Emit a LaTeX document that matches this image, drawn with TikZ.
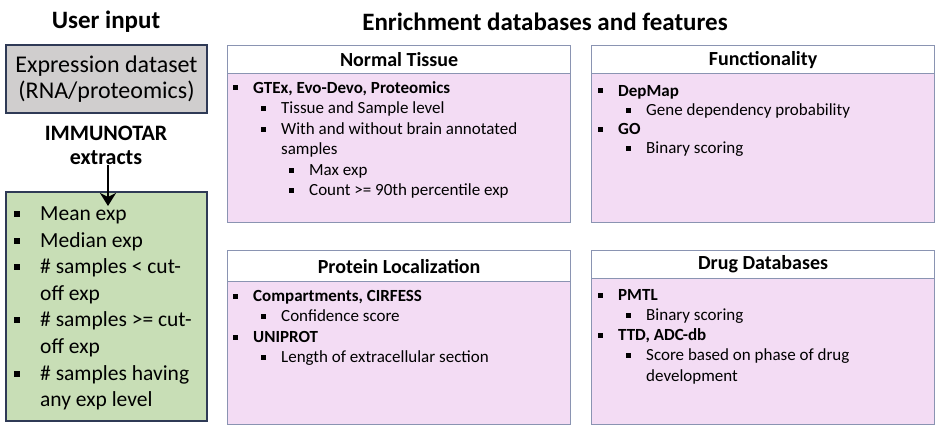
\documentclass[tikz,border=0pt]{standalone}
\usepackage{fontspec}
\setmainfont{Carlito}
\usetikzlibrary{positioning,arrows.meta}
\definecolor{navyline}{HTML}{2F3A56}
\definecolor{greyfill}{HTML}{D0CECE}
\definecolor{greenfill}{HTML}{C8DEB6}
\definecolor{pinkfill}{HTML}{F3DCF4}
\definecolor{boxline}{HTML}{8A94B2}
\begin{document}
\begin{tikzpicture}[x=1pt, y=-1pt, >=Stealth,
    heading/.style={font=\fontsize{25}{28}\selectfont\bfseries},
    hdr/.style={draw=boxline, line width=1.2pt, fill=white, anchor=north west, inner sep=0,
      minimum width=343pt, font=\fontsize{20}{23}\selectfont\bfseries},
    body/.style={draw=boxline, line width=1.2pt, fill=pinkfill, anchor=north west, inner sep=0,
      minimum width=343pt},
    sq/.style={fill=black, minimum size=5pt, inner sep=0, outer sep=0},
    lv/.style={anchor=west, inner sep=0, text height=12.5pt, text depth=2.3pt,
      font=\fontsize{17}{20}\selectfont},
    itm/.style={lv, label={[sq, xshift=-15pt]left:{}}},
    glv/.style={anchor=west, inner sep=0, text height=15.5pt, text depth=2.7pt,
      font=\fontsize{21.5}{24}\selectfont},
    gitm/.style={glv, label={[sq, minimum size=6pt, xshift=-20pt]left:{}}}]
  \useasboundingbox (0,0) rectangle (935,428);

  % column titles
  \node[heading] (usr) at (106,22) {User input};
  \node[heading] (enr) at (545,22) {Enrichment databases and features};

  % user input side
  \node[draw=navyline, line width=1.2pt, fill=greyfill, minimum width=201pt, minimum height=68pt,
    align=center, font=\fontsize{24}{26}\selectfont] (inp) at (106.5,79)
    {Expression dataset\\(RNA/proteomics)};
  \node[align=center, font=\fontsize{22}{24}\selectfont\bfseries, inner sep=1pt] (ext) at (106,145)
    {IMMUNOTAR\\extracts};
  \node[draw=navyline, line width=1.2pt, fill=greenfill, minimum width=201pt,
    minimum height=229pt] (feat) at (106.5,306.5) {};
  \coordinate (tip) at (108,206);
  \draw[line width=2.8pt, -{Stealth[length=13pt, width=16pt, inset=4pt]}] (ext.south -| tip) -- (tip);

  \node[gitm] (g1) at (40,214) {Mean exp};
  \node[gitm] (g2) at (40,240.6) {Median exp};
  \node[gitm] (g3) at (40,267.2) {\# samples < cut-};
  \node[glv] (g3b) at (40,293.8) {off exp};
  \node[gitm] (g4) at (40,320.4) {\# samples >= cut-};
  \node[glv] (g4b) at (40,347) {off exp};
  \node[gitm] (g5) at (40,373.6) {\# samples having};
  \node[glv] (g5b) at (40,400.2) {any exp level};

  % Normal Tissue
  \node[hdr, minimum height=28pt] (ntH) at (227,45) {Normal Tissue};
  \node[body, minimum height=149pt] (ntB) at (227,73) {};
  \node[itm] (nt1) at (253,88) {\textbf{GTEx, Evo-Devo, Proteomics}};
  \node[itm] (nt2) at (281,108.5) {Tissue and Sample level};
  \node[itm] (nt3) at (281,129) {With and without brain annotated};
  \node[lv] (nt3b) at (281,149.5) {samples};
  \node[itm] (nt4) at (309,170) {Max exp};
  \node[itm] (nt5) at (309,190.5) {Count >= 90th percentile exp};

  % Functionality
  \node[hdr, minimum height=28pt] (fnH) at (591,45) {Functionality};
  \node[body, minimum height=149pt] (fnB) at (591,73) {};
  \node[itm] (fn1) at (618,91) {\textbf{DepMap}};
  \node[itm] (fn2) at (646,110) {Gene dependency probability};
  \node[itm] (fn3) at (618,129) {\textbf{GO}};
  \node[itm] (fn4) at (646,148) {Binary scoring};

  % Protein Localization
  \node[hdr, minimum height=31pt] (plH) at (227,250) {Protein Localization};
  \node[body, minimum height=143pt] (plB) at (227,281) {};
  \node[itm] (pl1) at (253,296) {\textbf{Compartments, CIRFESS}};
  \node[itm] (pl2) at (281,316) {Confidence score};
  \node[itm] (pl3) at (253,337) {\textbf{UNIPROT}};
  \node[itm] (pl4) at (281,357) {Length of extracellular section};

  % Drug Databases
  \node[hdr, minimum height=28pt] (ddH) at (591,250) {Drug Databases};
  \node[body, minimum height=146pt] (ddB) at (591,278) {};
  \node[itm] (dd1) at (618,295) {\textbf{PMTL}};
  \node[itm] (dd2) at (646,315) {Binary scoring};
  \node[itm] (dd3) at (618,335) {\textbf{TTD, ADC-db}};
  \node[itm] (dd4) at (646,355) {Score based on phase of drug};
  \node[lv] (dd4b) at (646,376) {development};
\end{tikzpicture}
\end{document}
